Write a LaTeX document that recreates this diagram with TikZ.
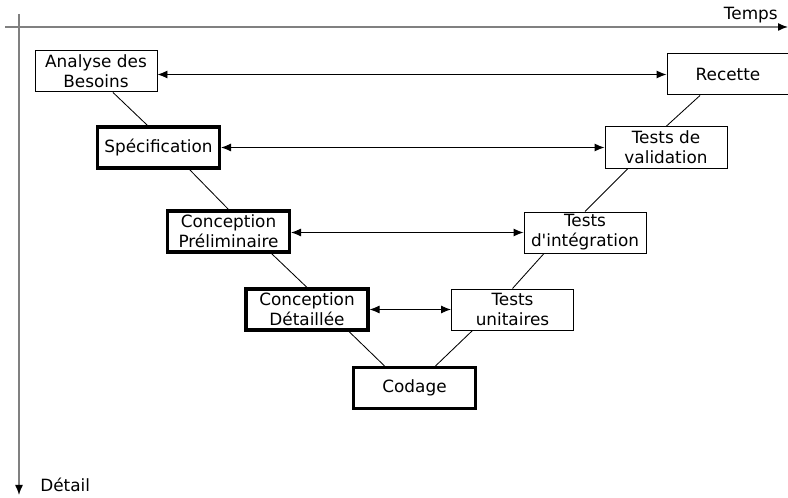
\documentclass[tikz,border=0pt]{standalone}
\usepackage{fontspec}
\setmainfont{DejaVu Sans}
\usetikzlibrary{arrows.meta}

\begin{document}
\begin{tikzpicture}[
    every node/.style={font=\fontsize{12}{14.2}\selectfont, align=center},
    phase/.style  = {draw, line width=0.7pt, minimum width=3.05cm,
                     minimum height=1.025cm, inner sep=1pt},
    bold/.style   = {phase, line width=2.2pt},
    axis/.style   = {draw=gray, line width=1pt, -{Latex[length=2.5mm,width=2mm,fill=black,color=black]}},
    label/.style  = {inner sep=0pt},
    link/.style   = {draw, line width=0.6pt},
    pair/.style   = {draw, line width=0.7pt,
                     {Latex[length=2.5mm,width=2mm]}-{Latex[length=2.5mm,width=2mm]}},
  ]
  \useasboundingbox (0,0) rectangle (19.7,12.45);

  % axes
  \coordinate (t0) at (0.125,11.775);
  \coordinate (t1) at (19.7,11.775);
  \coordinate (d0) at (0.475,12.1);
  \coordinate (d1) at (0.475,0.075);
  \draw[axis] (t0) -- (t1);
  \draw[axis] (d0) -- (d1);
  \node[label, anchor=base east] (temps) at (19.45,11.95) {Temps};
  \node[label, anchor=base west] (detail) at (1.0,0.17) {Détail};

  % descending branch
  \node[phase] (ana)  at (2.4,10.6625)    {Analyse des\\Besoins};
  \node[bold]  (spec) at (3.9625,8.7625)  {Spécification};
  \node[bold]  (cp)   at (5.7125,6.6625)  {Conception\\Préliminaire};
  \node[bold]  (cd)   at (7.675,4.7125)   {Conception\\Détaillée};
  \node[bold]  (cod)  at (10.3625,2.75)   {Codage};

  % ascending branch
  \node[phase] (tu)   at (12.8125,4.7125) {Tests\\unitaires};
  \node[phase] (ti)   at (14.625,6.6375)  {Tests\\d\textquotesingle intégration};
  \node[phase] (tv)   at (16.65,8.7625)   {Tests de\\validation};
  \node[phase] (rec)  at (18.2,10.5875)   {Recette};

  % the V
  \draw[link] ([xshift=0.425cm]ana.south)  -- ([xshift=-0.275cm]spec.north);
  \draw[link] ([xshift=0.775cm]spec.south) -- (cp.north);
  \draw[link] ([xshift=1.075cm]cp.south)   -- (cd.north);
  \draw[link] ([xshift=1.05cm]cd.south)    -- ([xshift=-0.75cm]cod.north);
  \draw[link] ([xshift=0.525cm]cod.north)  -- ([xshift=-1cm]tu.south);
  \draw[link] (tu.north) -- ([xshift=-1.025cm]ti.south);
  \draw[link] (ti.north) -- ([xshift=-0.95cm]tv.south);
  \draw[link] (tv.north) -- ([xshift=-0.7cm]rec.south);

  % correspondences
  \draw[pair] (ana.east |- rec.west) -- (rec.west);
  \draw[pair] (spec.east) -- (tv.west);
  \draw[pair] (cp.east |- ti.west) -- (ti.west);
  \draw[pair] (cd.east) -- (tu.west);
\end{tikzpicture}
\end{document}
